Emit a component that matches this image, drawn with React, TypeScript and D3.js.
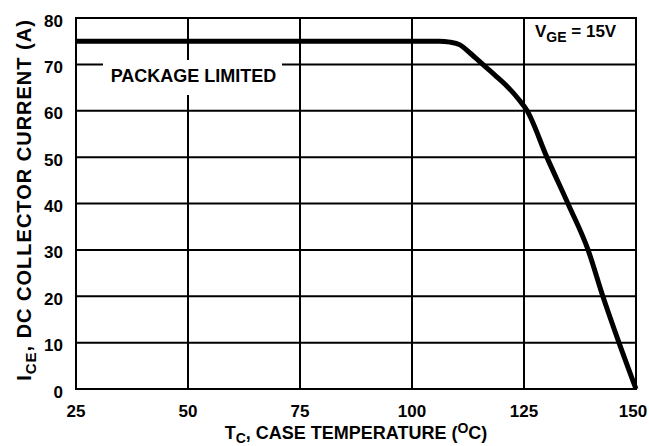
import React, { useEffect, useRef } from 'react';
import * as d3 from 'd3';

const xTicks = [25, 50, 75, 100, 125, 150];
const yTicks = [0, 10, 20, 30, 40, 50, 60, 70, 80];
// case temperature (°C) vs. DC collector current (A)
const tempC = [25, 106, 108.5, 110.7, 113, 115.8, 118.5, 121.2, 123.7, 125.7, 130.1, 134.8, 139.3, 142.6, 146.2, 150];
const currentA = [75, 75, 74.8, 74.2, 72.4, 70, 67.7, 65.3, 62.6, 60, 50, 40, 30, 20, 10, 0];

const App: React.FC = () => {
  const svgRef = useRef<SVGSVGElement | null>(null);

  useEffect(() => {
    if (!svgRef.current) return;
    const svg = d3.select(svgRef.current);
    svg.selectAll('*').remove();

    const width = 649;
    const height = 446;
    const margin = { top: 18, right: 13, bottom: 57, left: 76 };
    const font = 'Liberation Sans, Arial, sans-serif';

    const x = d3.scaleLinear().domain([25, 150]).range([margin.left, width - margin.right]);
    const y = d3.scaleLinear().domain([0, 80]).range([height - margin.bottom, margin.top]);

    // grid
    const grid = svg.append('g').attr('stroke', '#000').attr('stroke-width', 2);
    grid.selectAll('line.h')
      .data(yTicks)
      .join('line')
      .attr('class', 'h')
      .attr('x1', x(25) - 1).attr('x2', x(150) + 1)
      .attr('y1', d => y(d)).attr('y2', d => y(d));
    grid.selectAll('line.v')
      .data(xTicks)
      .join('line')
      .attr('class', 'v')
      .attr('y1', y(0) + 1).attr('y2', y(80) - 1)
      .attr('x1', d => x(d)).attr('x2', d => x(d));

    // package limited label box
    svg.append('rect')
      .attr('x', 103).attr('y', 60)
      .attr('width', 179).attr('height', 35)
      .attr('fill', '#fff');
    svg.append('text')
      .attr('x', 193.5).attr('y', 82)
      .attr('text-anchor', 'middle')
      .attr('font-family', font).attr('font-weight', 'bold').attr('font-size', 18)
      .text('PACKAGE LIMITED');

    // curve
    const line = d3.line<number>()
      .x(i => x(tempC[i]))
      .y(i => y(currentA[i]))
      .curve(d3.curveMonotoneX);
    svg.append('path')
      .attr('d', line(d3.range(tempC.length)))
      .attr('fill', 'none')
      .attr('stroke', '#000')
      .attr('stroke-width', 5)
      .attr('stroke-linejoin', 'round');

    // V_GE label
    const vge = svg.append('text')
      .attr('x', 535).attr('y', 37)
      .attr('font-family', font).attr('font-weight', 'bold').attr('font-size', 17);
    vge.append('tspan').text('V');
    vge.append('tspan').attr('font-size', 14).attr('dy', 5).text('GE');
    vge.append('tspan').attr('dy', -5).text(' = 15V');

    // tick labels
    svg.append('g').selectAll('text')
      .data(xTicks)
      .join('text')
      .attr('x', d => x(d) - (d === 150 ? 3 : 0)).attr('y', y(0) + 28)
      .attr('text-anchor', 'middle')
      .attr('font-family', font).attr('font-weight', 'bold').attr('font-size', 17)
      .text(d => d);
    svg.append('g').selectAll('text')
      .data(yTicks)
      .join('text')
      .attr('x', margin.left - 13).attr('y', d => y(d) + 8.5)
      .attr('text-anchor', 'end')
      .attr('font-family', font).attr('font-weight', 'bold').attr('font-size', 17)
      .text(d => d);

    // axis titles
    const xt = svg.append('text')
      .attr('x', 356).attr('y', 439)
      .attr('text-anchor', 'middle')
      .attr('font-family', font).attr('font-weight', 'bold').attr('font-size', 18);
    xt.append('tspan').text('T');
    xt.append('tspan').attr('font-size', 14).attr('dy', 4).text('C');
    xt.append('tspan').attr('dy', -4).text(', CASE TEMPERATURE (');
    xt.append('tspan').attr('font-size', 14).attr('dy', -6).text('O');
    xt.append('tspan').attr('dy', 6).text('C)');

    const yt = svg.append('text')
      .attr('transform', 'rotate(-90)')
      .attr('x', -200).attr('y', 31)
      .attr('text-anchor', 'middle')
      .attr('letter-spacing', 1)
      .attr('font-family', font).attr('font-weight', 'bold').attr('font-size', 20);
    yt.append('tspan').text('I');
    yt.append('tspan').attr('font-size', 15).attr('dy', 5).text('CE');
    yt.append('tspan').attr('dy', -5).text(', DC COLLECTOR CURRENT (A)');
  }, []);

  return (
    <svg ref={svgRef} width={649} height={446} style={{ position: 'absolute', left: 0, top: 0, background: '#fff' }} />
  );
};

export default App;
